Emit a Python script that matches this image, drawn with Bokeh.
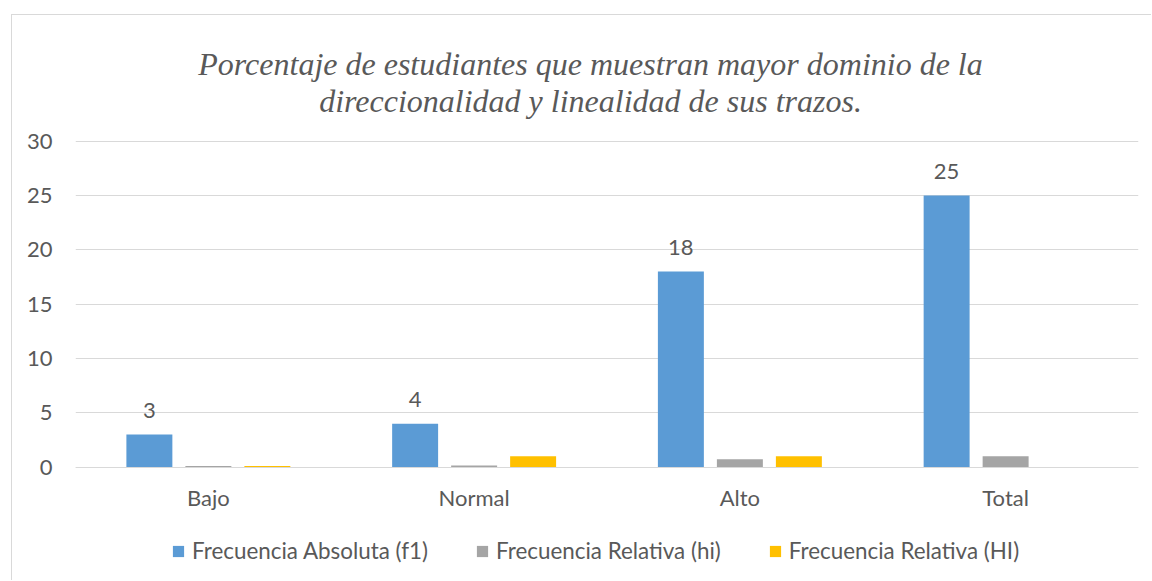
from bokeh.plotting import figure
from bokeh.models import (ColumnDataSource, FactorRange, Range1d, Legend, LegendItem,
                          LabelSet, Label, FixedTicker)
from bokeh.core.properties import value
from bokeh.transform import dodge
from bokeh.embed import file_html
from bokeh.resources import INLINE

# ---- data ----
categories = ["Bajo", "Normal", "Alto", "Total"]
f1 = [3, 4, 18, 25]
hi = [0.12, 0.16, 0.72, 1.0]
HI = [0.12, 1.0, 1.0, 0.0]
series_names = ["Frecuencia Absoluta (f1)", "Frecuencia Relativa (hi)", "Frecuencia Relativa (HI)"]
colors = ["#5B9BD5", "#A5A5A5", "#FFC000"]
title_lines = ["Porcentaje de estudiantes que muestran mayor dominio de la",
               "direccionalidad y linealidad de sus trazos."]
y_ticks = [0, 5, 10, 15, 20, 25, 30]

TEXT = "#595959"
GRID = "#D9D9D9"
FONT = "Lato"

src = ColumnDataSource(dict(cat=categories, f1=f1, hi=hi, HI=HI,
                            f1_label=[str(v) for v in f1]))

# frame covers whole canvas height; ticks stop at 30, title above, legend below
p = figure(x_range=FactorRange(*categories), y_range=Range1d(-10.52, 41.57),
           width=1140, height=566, output_backend="svg", toolbar_location=None,
           min_border_left=63, min_border_right=14, min_border_top=0,
           min_border_bottom=0)
p.styles = {"margin-left": "11px", "margin-top": "14px",
            "border-left": "1px solid #D9D9D9", "border-top": "1px solid #D9D9D9"}

off = 0.222
bw = 0.173
r1 = p.vbar(x=dodge("cat", -off, range=p.x_range), top="f1", width=bw, source=src,
            fill_color=colors[0], line_color=None)
r2 = p.vbar(x=dodge("cat", 0.0, range=p.x_range), top="hi", width=bw, source=src,
            fill_color=colors[1], line_color=None)
r3 = p.vbar(x=dodge("cat", off, range=p.x_range), top="HI", width=bw, source=src,
            fill_color=colors[2], line_color=None)

labels = LabelSet(x=dodge("cat", -off, range=p.x_range), y="f1", text="f1_label",
                  source=src, text_align="center", text_baseline="alphabetic",
                  y_offset=17, text_font=value(FONT), text_font_size=value("22px"),
                  text_color=value(TEXT))
p.add_layout(labels)

# title
for txt, yy in zip(title_lines, [37.15, 33.74]):
    p.add_layout(Label(x=1.938, y=yy, text=txt, text_align="center",
                       text_baseline="alphabetic", text_font="Liberation Serif",
                       text_font_style="italic", text_font_size="32px",
                       text_color=TEXT))

# axes
p.yaxis.ticker = FixedTicker(ticks=y_ticks)
p.yaxis.axis_line_color = None
p.yaxis.major_tick_line_color = None
p.yaxis.minor_tick_line_color = None
p.yaxis.major_tick_out = 0
p.yaxis.major_tick_in = 0
p.yaxis.major_label_standoff = 23
p.yaxis.major_label_text_font = FONT
p.yaxis.major_label_text_font_size = "22px"
p.yaxis.major_label_text_color = TEXT

p.xaxis.fixed_location = 0
p.xaxis.axis_line_color = GRID
p.xaxis.axis_line_width = 1
p.xaxis.major_tick_line_color = None
p.xaxis.minor_tick_line_color = None
p.xaxis.major_tick_out = 0
p.xaxis.major_tick_in = 0
p.xaxis.major_label_standoff = 17
p.xaxis.major_label_text_font = FONT
p.xaxis.major_label_text_font_size = "22px"
p.xaxis.major_label_text_color = TEXT

p.xgrid.visible = False
p.ygrid.grid_line_color = GRID
p.ygrid.grid_line_width = 1
p.outline_line_color = None

legend = Legend(items=[LegendItem(label=n, renderers=[r]) for n, r in zip(series_names, [r1, r2, r3])],
                orientation="horizontal", location=(96, 17),
                glyph_width=14, glyph_height=14, label_standoff=7, spacing=47,
                padding=0, margin=0, border_line_color=None, background_fill_alpha=0,
                label_text_font=FONT, label_text_font_size="22.4px", label_text_color=TEXT)
p.add_layout(legend, "center")

open("out.html", "w").write(file_html(p, INLINE))
